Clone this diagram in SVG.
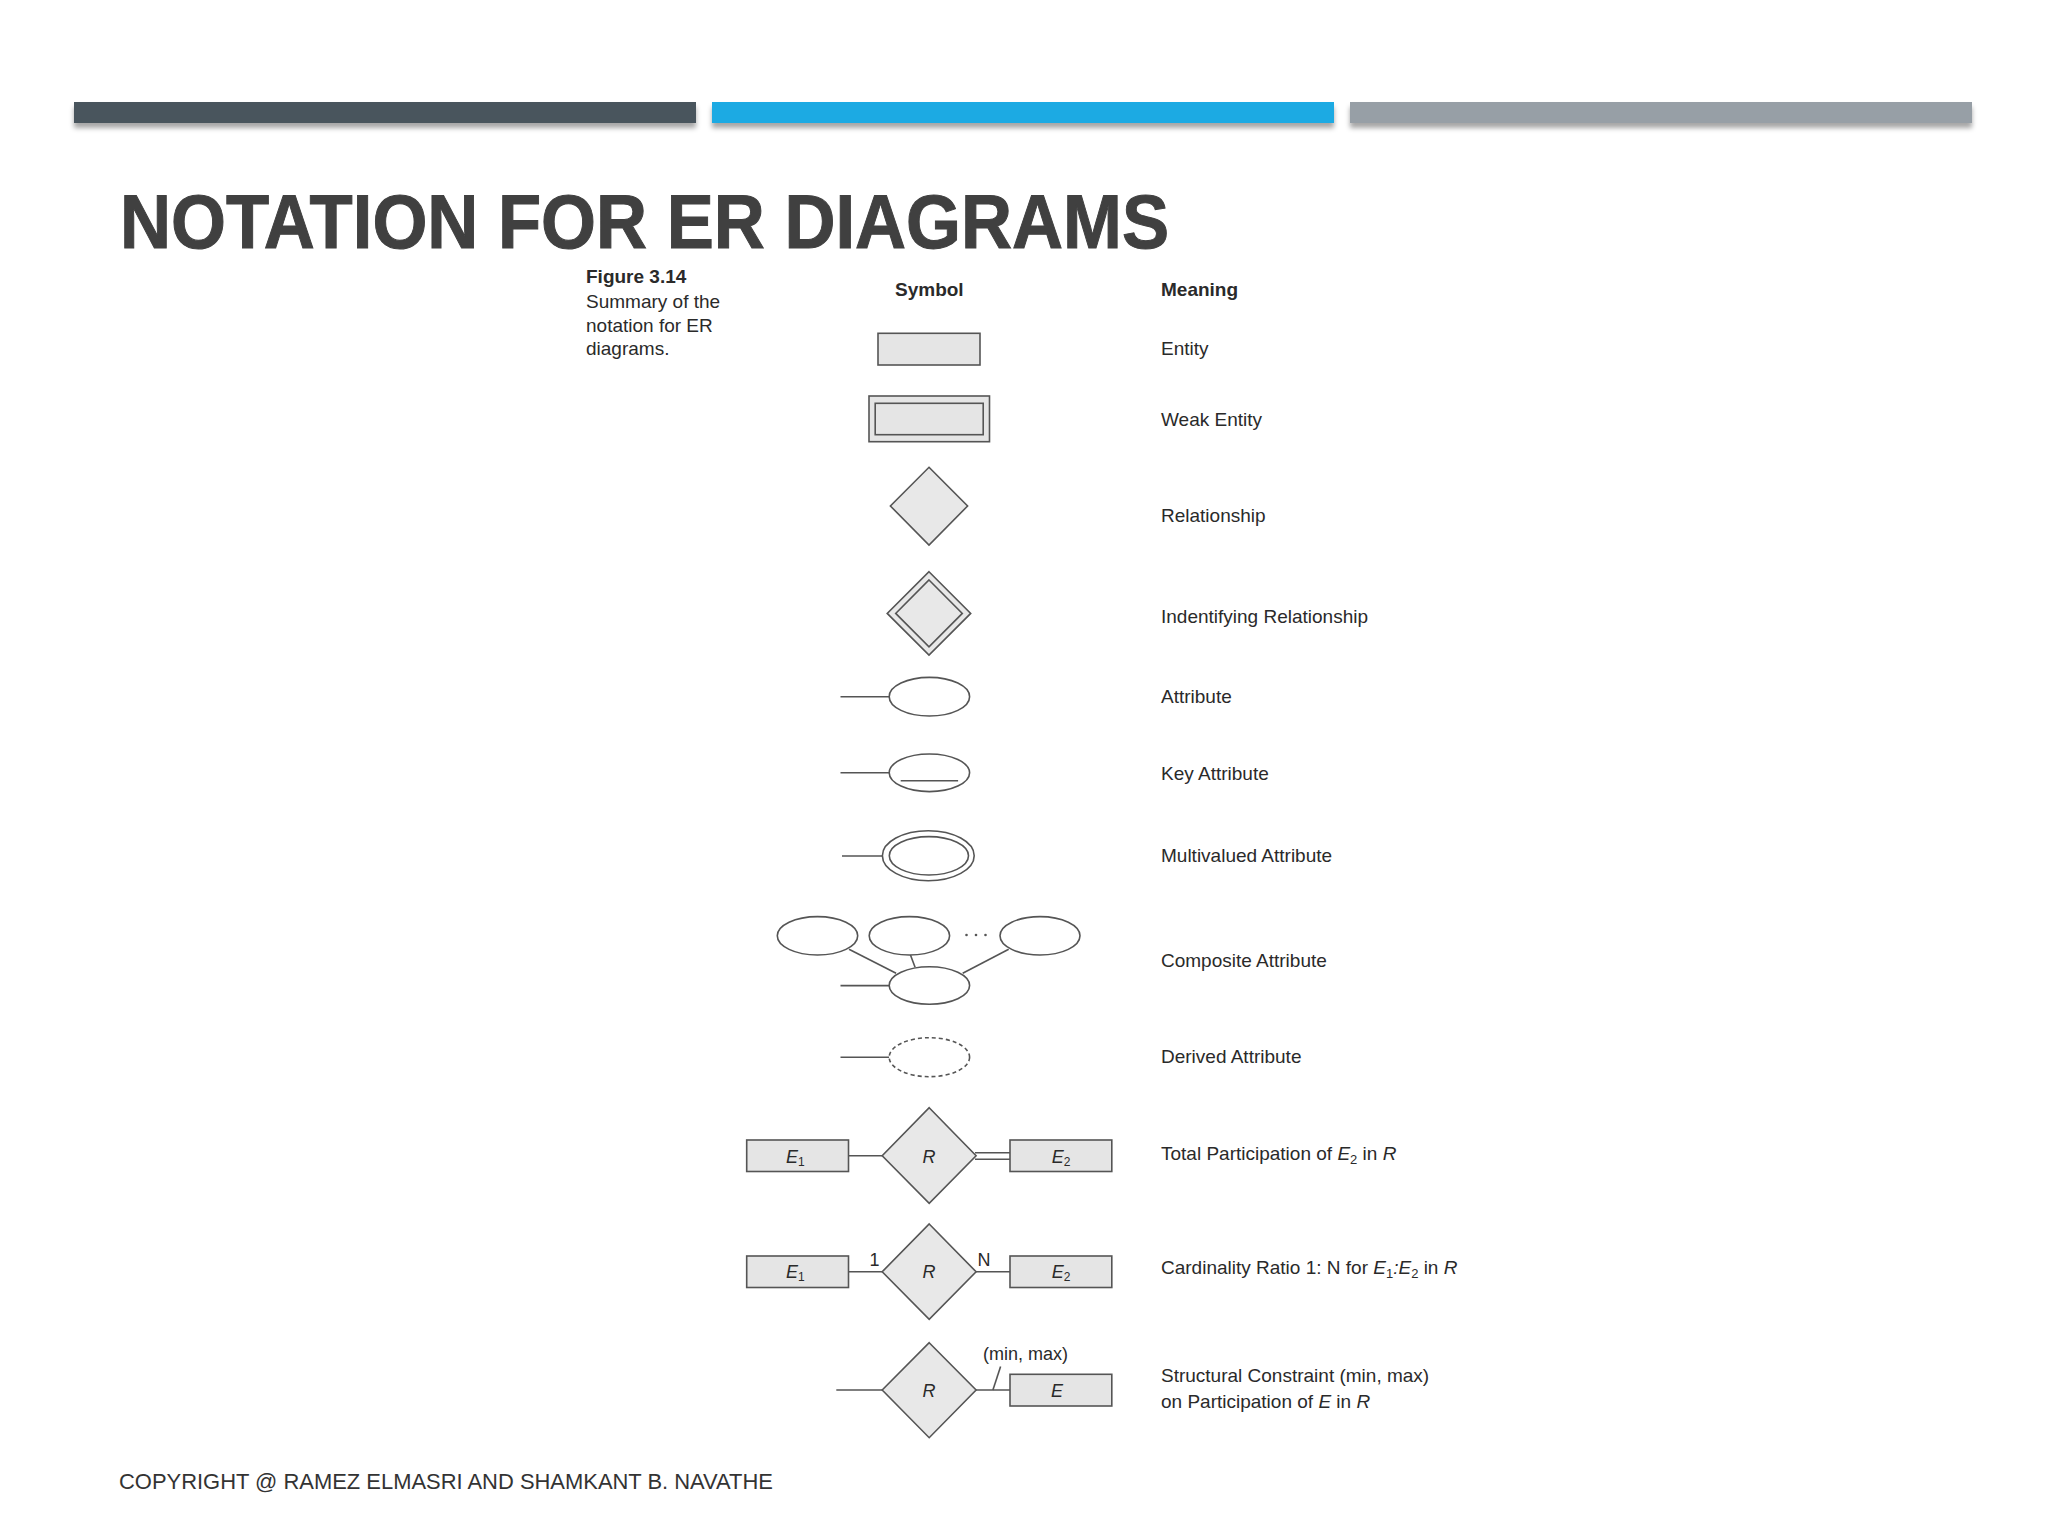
<svg xmlns="http://www.w3.org/2000/svg" width="2048" height="1536" viewBox="0 0 2048 1536">
<defs>
<filter id="shadow" x="-5%" y="-50%" width="110%" height="250%">
<feDropShadow dx="0" dy="5" stdDeviation="2.5" flood-color="#000" flood-opacity="0.35"/>
</filter>
</defs>
<style>
.t{font-family:"Liberation Sans",Arial,Helvetica,sans-serif;fill:#2a2a2a;font-size:19px}
.b{font-weight:bold}
.i{font-style:italic}
.s{font-style:normal}
.lbl{font-family:"Liberation Sans",Arial,Helvetica,sans-serif;fill:#2a2a2a;font-size:18px}
.ent{fill:#e5e5e5;stroke:#555;stroke-width:1.6}
.rel{fill:#e8e8e8;stroke:#555;stroke-width:1.6}
.att{fill:#fff;stroke:#555;stroke-width:1.6}
.ln{stroke:#555;stroke-width:1.6;fill:none}
</style>
<rect width="2048" height="1536" fill="#fff"/>

<g id="bars" filter="url(#shadow)">
<rect x="74" y="102" width="622" height="21" fill="#4a555d"/>
<rect x="712" y="102" width="622" height="21" fill="#1eaae3"/>
<rect x="1350" y="102" width="622" height="21" fill="#979fa6"/>
</g>

<text x="120" y="248" font-family="'Liberation Sans',Arial,sans-serif" font-weight="bold" font-size="76" fill="#404040" stroke="#404040" stroke-width="1" textLength="1049" lengthAdjust="spacingAndGlyphs">NOTATION FOR ER DIAGRAMS</text>

<g id="caption">
<text class="t b" x="586" y="283">Figure 3.14</text>
<text class="t" x="586" y="307.5">Summary of the</text>
<text class="t" x="586" y="331.5">notation for ER</text>
<text class="t" x="586" y="355">diagrams.</text>
</g>

<g id="headers">
<text class="t b" x="895" y="296">Symbol</text>
<text class="t b" x="1161" y="296">Meaning</text>
</g>

<g id="connectors">
<line class="ln" x1="840.5" y1="696.7" x2="889.2" y2="696.7"/>
<line class="ln" x1="840.5" y1="772.8" x2="889.2" y2="772.8"/>
<line class="ln" x1="842" y1="856" x2="882.4" y2="856"/>
<line class="ln" x1="849" y1="949.3" x2="896.1" y2="973.3"/>
<line class="ln" x1="910.5" y1="955" x2="915.1" y2="967.3"/>
<line class="ln" x1="1008.7" y1="949.3" x2="962.7" y2="973.3"/>
<line class="ln" x1="840.5" y1="985.6" x2="889.2" y2="985.6"/>
<line class="ln" x1="840.5" y1="1057.2" x2="889.2" y2="1057.2"/>
<line class="ln" x1="848.5" y1="1155.8" x2="882.2" y2="1155.8"/>
<line class="ln" x1="975" y1="1152.7" x2="1010" y2="1152.7"/>
<line class="ln" x1="975" y1="1159.3" x2="1010" y2="1159.3"/>
<line class="ln" x1="848.5" y1="1271.8" x2="882.2" y2="1271.8"/>
<line class="ln" x1="976" y1="1271.8" x2="1010" y2="1271.8"/>
<line class="ln" x1="836.3" y1="1390" x2="882.2" y2="1390"/>
<line class="ln" x1="976" y1="1390" x2="1010" y2="1390"/>
<line class="ln" x1="1000.6" y1="1366.5" x2="992.9" y2="1390"/>
</g>

<g id="entity">
<rect class="ent" x="878" y="333.3" width="102" height="31.7"/>
<text class="t" x="1161" y="355">Entity</text>
</g>

<g id="weak-entity">
<rect class="ent" x="869" y="396" width="120.5" height="45.7"/>
<rect class="ent" x="875.2" y="403.3" width="108" height="31.4"/>
<text class="t" x="1161" y="425.5">Weak Entity</text>
</g>

<g id="relationship">
<polygon class="rel" points="929,467.3 967.6,506 929,545 890.4,506"/>
<text class="t" x="1161" y="521.7">Relationship</text>
</g>

<g id="identifying-relationship">
<polygon class="rel" points="929,571.7 970.7,613.4 929,655 887.2,613.4"/>
<polygon class="rel" points="929,580 962.3,613.4 929,646.8 895.7,613.4"/>
<text class="t" x="1161" y="623">Indentifying Relationship</text>
</g>

<g id="attribute">
<ellipse class="att" cx="929.4" cy="696.7" rx="40.2" ry="19.3"/>
<text class="t" x="1161" y="703">Attribute</text>
</g>

<g id="key-attribute">
<ellipse class="att" cx="929.4" cy="772.8" rx="40.2" ry="18.8"/>
<line class="ln" x1="900.7" y1="780.7" x2="958.1" y2="780.7"/>
<text class="t" x="1161" y="779.5">Key Attribute</text>
</g>

<g id="multivalued-attribute">
<ellipse class="att" cx="928.3" cy="855.7" rx="45.9" ry="25"/>
<ellipse class="att" cx="928.9" cy="855.8" rx="39.6" ry="19.2"/>
<text class="t" x="1161" y="862">Multivalued Attribute</text>
</g>

<g id="composite-attribute">
<ellipse class="att" cx="817.5" cy="935.8" rx="40.2" ry="19.2"/>
<ellipse class="att" cx="909.4" cy="935.8" rx="40.2" ry="19.2"/>
<ellipse class="att" cx="1040" cy="935.8" rx="40" ry="19.2"/>
<ellipse class="att" cx="929.4" cy="985.5" rx="40.2" ry="18.8"/>
<circle cx="966.5" cy="935" r="1.3" fill="#555"/>
<circle cx="976" cy="935" r="1.3" fill="#555"/>
<circle cx="985.5" cy="935" r="1.3" fill="#555"/>
<text class="t" x="1161" y="967">Composite Attribute</text>
</g>

<g id="derived-attribute">
<ellipse class="att" cx="929.4" cy="1057.2" rx="40.2" ry="19.5" stroke-dasharray="4 3"/>
<text class="t" x="1161" y="1063">Derived Attribute</text>
</g>

<g id="total-participation">
<rect class="ent" x="746.7" y="1140" width="101.8" height="31.5"/>
<text class="lbl i" x="786" y="1162.5">E<tspan class="s" font-size="12" dy="3">1</tspan></text>
<polygon class="rel" points="929.2,1107.7 976.1,1155.8 929.2,1203.3 882.2,1155.8"/>
<text class="lbl i" x="929" y="1162.5" text-anchor="middle">R</text>
<rect class="ent" x="1010" y="1140" width="101.8" height="31.5"/>
<text class="lbl i" x="1051.7" y="1162.5">E<tspan class="s" font-size="12" dy="3">2</tspan></text>
<text class="t" x="1161" y="1159.5">Total Participation of <tspan class="i">E</tspan><tspan font-size="13" dy="4">2</tspan><tspan dy="-4"> in </tspan><tspan class="i">R</tspan></text>
</g>

<g id="cardinality-ratio">
<rect class="ent" x="746.7" y="1256" width="101.8" height="31.5"/>
<text class="lbl i" x="786" y="1278.3">E<tspan class="s" font-size="12" dy="3">1</tspan></text>
<text class="lbl" x="869.5" y="1266">1</text>
<polygon class="rel" points="929.2,1224 976.1,1271.8 929.2,1319.3 882.2,1271.8"/>
<text class="lbl i" x="929" y="1278.3" text-anchor="middle">R</text>
<text class="lbl" x="977.5" y="1266">N</text>
<rect class="ent" x="1010" y="1256" width="101.8" height="31.5"/>
<text class="lbl i" x="1051.7" y="1278.3">E<tspan class="s" font-size="12" dy="3">2</tspan></text>
<text class="t" x="1161" y="1274">Cardinality Ratio 1: N for <tspan class="i">E</tspan><tspan font-size="13" dy="4">1</tspan><tspan dy="-4" class="i">:E</tspan><tspan font-size="13" dy="4">2</tspan><tspan dy="-4"> in </tspan><tspan class="i">R</tspan></text>
</g>

<g id="structural-constraint">
<polygon class="rel" points="929.2,1342.7 976.1,1390 929.2,1437.7 882.2,1390"/>
<text class="lbl i" x="929" y="1396.5" text-anchor="middle">R</text>
<text class="lbl" x="983" y="1360">(min, max)</text>
<rect class="ent" x="1010" y="1374.3" width="101.8" height="31.7"/>
<text class="lbl i" x="1057" y="1396.5" text-anchor="middle">E</text>
<text class="t" x="1161" y="1382">Structural Constraint (min, max)</text>
<text class="t" x="1161" y="1408">on Participation of <tspan class="i">E</tspan> in <tspan class="i">R</tspan></text>
</g>

<text x="119" y="1489" font-family="'Liberation Sans',Arial,sans-serif" font-size="22" fill="#333" textLength="654" lengthAdjust="spacingAndGlyphs">COPYRIGHT @ RAMEZ ELMASRI AND SHAMKANT B. NAVATHE</text>
</svg>
